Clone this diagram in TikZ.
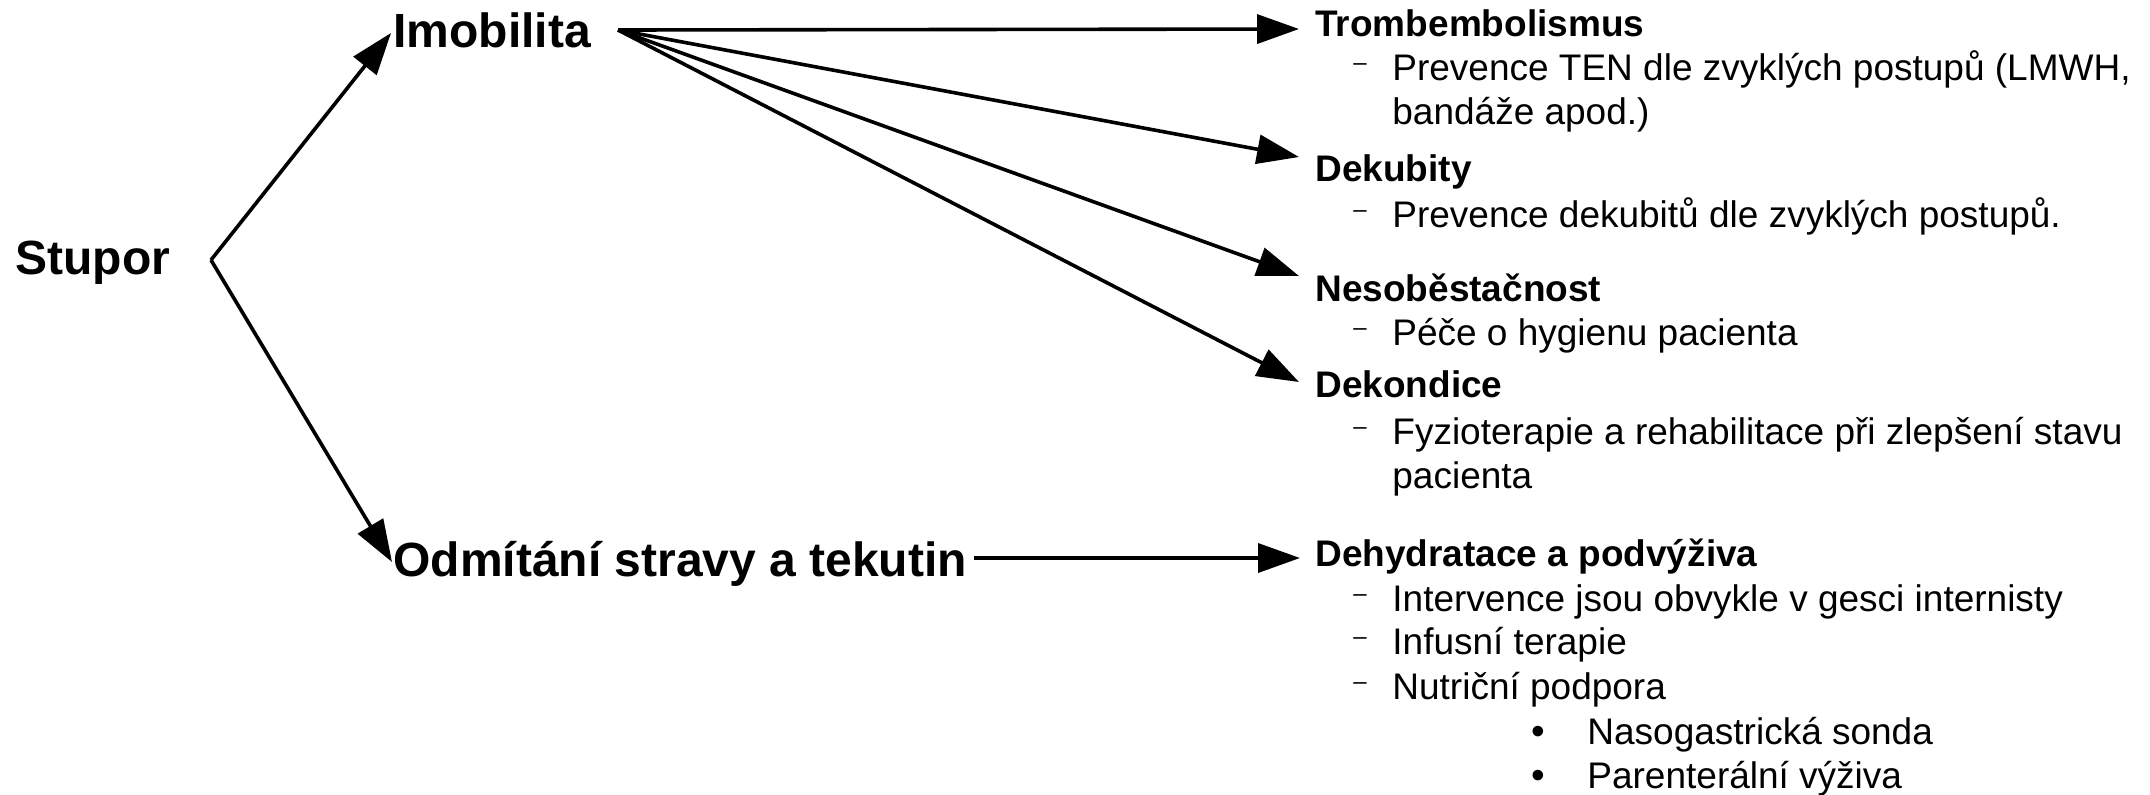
\documentclass[tikz,border=0pt]{standalone}
\usepackage{fontspec}
\setmainfont{Liberation Sans}
\usetikzlibrary{arrows.meta}
\begin{document}
\begin{tikzpicture}[x=0.5pt,y=-0.5pt,
  big/.style={font=\fontsize{24}{28}\selectfont\bfseries, anchor=base west, inner sep=0pt},
  head/.style={font=\fontsize{18.5}{22}\selectfont\bfseries, anchor=base west, inner sep=0pt},
  body/.style={font=\fontsize{18.5}{22}\selectfont, anchor=base west, inner sep=0pt},
  dashmark/.style={font=\fontsize{12}{12}\selectfont, anchor=base west, inner sep=0pt, yshift=5pt},
  bulletmark/.style={font=\fontsize{19.5}{22}\selectfont, anchor=base west, inner sep=0pt, yshift=0.5pt},
  conn/.style={line width=1.8pt, -{Triangle[length=21pt,width=14.5pt]}}]
\useasboundingbox (0,0) rectangle (2150,794);

% main labels
\node[big] (stupor) at (15,274) {Stupor};
\node[big] (imo) at (393,47) {Imobilita};
\node[big] (odm) at (393,576) {Odmítání stravy a tekutin};

% connector points
\coordinate (sp) at (211,260);
\coordinate (imoin) at (391,33);
\coordinate (odmin) at (392,562);
\coordinate (imoout) at (618,30);
\coordinate (odmout) at (974,558);
\coordinate (t1) at (1299,29);
\coordinate (t2) at (1299,157);
\coordinate (t3) at (1299,276);
\coordinate (t4) at (1299,382);
\coordinate (t5) at (1300,558);

% right column
\node[head] (tromb) at (1315,36) {Trombembolismus};
\node[dashmark] (d1) at (1353,80) {–};
\node[body] (tromb1) at (1392,80) {Prevence TEN dle zvyklých postupů (LMWH,};
\node[body] (tromb2) at (1392,124) {bandáže apod.)};

\node[head] (dek) at (1315,181) {Dekubity};
\node[dashmark] (d2) at (1353,227) {–};
\node[body] (dek1) at (1392,227) {Prevence dekubitů dle zvyklých postupů.};

\node[head] (nes) at (1315,301) {Nesoběstačnost};
\node[dashmark] (d3) at (1353,345) {–};
\node[body] (nes1) at (1392,345) {Péče o hygienu pacienta};

\node[head] (dekon) at (1315,397) {Dekondice};
\node[dashmark] (d4) at (1353,444) {–};
\node[body] (dekon1) at (1392,444) {Fyzioterapie a rehabilitace při zlepšení stavu};
\node[body] (dekon2) at (1392,488) {pacienta};

\node[head] (dehy) at (1315,566) {Dehydratace a podvýživa};
\node[dashmark] (d5) at (1353,611) {–};
\node[body] (dehy1) at (1392,611) {Intervence jsou obvykle v gesci internisty};
\node[dashmark] (d6) at (1353,654) {–};
\node[body] (dehy2) at (1392,654) {Infusní terapie};
\node[dashmark] (d7) at (1353,699) {–};
\node[body] (dehy3) at (1392,699) {Nutriční podpora};
\node[bulletmark] (b1) at (1531,745) {•};
\node[body] (dehy4) at (1587,744) {Nasogastrická sonda};
\node[bulletmark] (b2) at (1531,789) {•};
\node[body] (dehy5) at (1587,788) {Parenterální výživa};

% connectors
\draw[conn] (sp) -- (imoin);
\draw[conn] (sp) -- (odmin);
\draw[conn] (imoout) -- (t1);
\draw[conn] (imoout) -- (t2);
\draw[conn] (imoout) -- (t3);
\draw[conn] (imoout) -- (t4);
\draw[conn] (odmout) -- (t5);
\end{tikzpicture}
\end{document}
